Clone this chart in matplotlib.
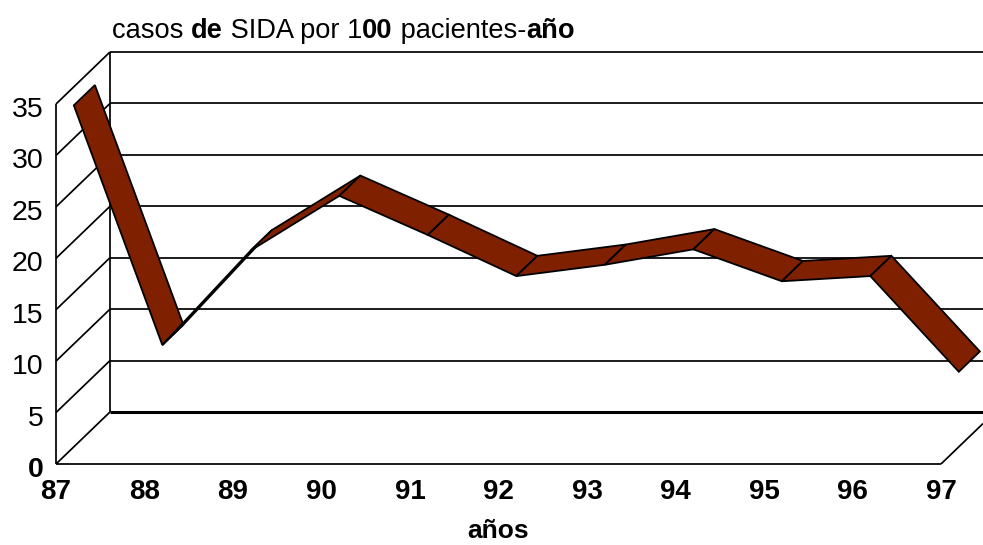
import matplotlib

matplotlib.use("Agg")
import matplotlib.pyplot as plt
from matplotlib.patches import Polygon
from matplotlib.transforms import ScaledTranslation

years = [87, 88, 89, 90, 91, 92, 93, 94, 95, 96, 97]
casos = [33.2, 9.9, 19.1, 24.4, 20.6, 16.6, 17.7, 19.2, 16.1, 16.6, 7.3]
y_ticks = [0, 5, 10, 15, 20, 25, 30, 35]
title_runs = [("casos ", "normal"), ("de", "bold"), (" SIDA por 1", "normal"),
              ("00", "bold"), (" pacientes-", "normal"), ("año", "bold")]

# 3d look: depth expressed in data units (54 px right, 52 px up)
DEPTH_X = 54 / 88.5
DEPTH_Y = 52 / 10.286
RIBBON_FRONT = 0.33
RIBBON_BACK = 0.72
BROWN = "#7f2000"
TITLE_SIZE = 19.6

plt.rcParams["font.family"] = ["Liberation Sans", "DejaVu Sans"]

W, H = 983, 545
fig = plt.figure(figsize=(W / 100, H / 100), dpi=100, facecolor="white")
ax = fig.add_axes([56 / W, (H - 464) / H, 885 / W, 360 / H])
ax.set_xlim(years[0], years[-1])
ax.set_ylim(0, 35)
for s in ax.spines.values():
    s.set_visible(False)
ax.patch.set_visible(False)


def line(xs, ys, lw=1.25, z=1):
    ax.plot(xs, ys, color="black", lw=lw, clip_on=False, zorder=z,
            solid_capstyle="butt")


x0, x1 = years[0], years[-1]
# right end of the picture cuts the back wall
x_edge = x0 + (983 - 56) / 88.5

for t in y_ticks:
    # back wall gridline + diagonal on the left wall
    line([x0 + DEPTH_X, x_edge], [t + DEPTH_Y, t + DEPTH_Y], lw=2.2 if t == 0 else 1.25)
    line([x0, x0 + DEPTH_X], [t, t + DEPTH_Y])

line([x0, x0], [0, 35])
line([x0 + DEPTH_X, x0 + DEPTH_X], [DEPTH_Y, 35 + DEPTH_Y])
line([x0, x1], [0, 0])
frac = (x_edge - x1) / DEPTH_X
line([x1, x_edge], [0, DEPTH_Y * frac])

# ribbon, one quad per year step
for i in range(len(years) - 1):
    quad = []
    for j, d in [(i, RIBBON_FRONT), (i + 1, RIBBON_FRONT), (i + 1, RIBBON_BACK), (i, RIBBON_BACK)]:
        quad.append((years[j] + d * DEPTH_X, casos[j] + d * DEPTH_Y))
    ax.add_patch(Polygon(quad, closed=True, facecolor=BROWN, edgecolor="black",
                         lw=1.3, joinstyle="miter", clip_on=False, zorder=3 + i))

ax.set_xticks(years)
ax.set_xticklabels([str(y) for y in years], fontsize=20, fontweight="bold")
ax.set_yticks(y_ticks)
ax.set_yticklabels([str(t) for t in y_ticks], fontsize=20.5)
ax.get_yticklabels()[0].set_fontweight("bold")
ax.tick_params(axis="both", length=0)
ax.tick_params(axis="x", pad=11)
ax.tick_params(axis="y", pad=9)
# y labels sit a little under their gridline in the original
shift = ScaledTranslation(0, -3 / 100, fig.dpi_scale_trans)
for lab in ax.get_yticklabels():
    lab.set_transform(lab.get_transform() + shift)
ax.set_xlabel("años", fontsize=19, fontweight="bold", labelpad=10)

# title has mixed weights, place the runs one after another
renderer = fig.canvas.get_renderer()
px = 112
for txt, weight in title_runs:
    fig.text(px / W, 1 - 38 / H, txt, fontsize=TITLE_SIZE, fontweight=weight,
             ha="left", va="baseline")
    # trailing/leading spaces are not counted reliably, so measure with a guard char
    probe = fig.text(0, 0, "|" + txt + "|", fontsize=TITLE_SIZE, fontweight=weight)
    bar = fig.text(0, 0, "||", fontsize=TITLE_SIZE, fontweight=weight)
    px += probe.get_window_extent(renderer).width - bar.get_window_extent(renderer).width
    probe.remove()
    bar.remove()

fig.savefig("out.png", dpi=100)
plt.close(fig)
